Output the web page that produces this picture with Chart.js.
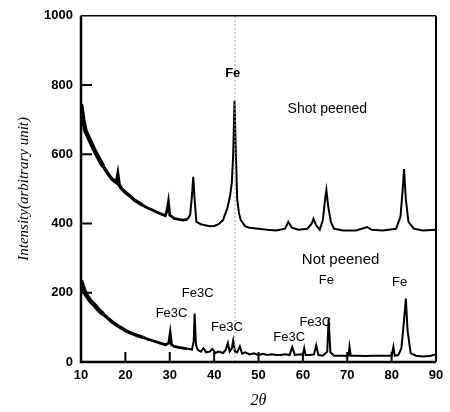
<!DOCTYPE html>
<html>
<head>
<meta charset="utf-8">
<script src="https://cdn.jsdelivr.net/npm/chart.js@4/dist/chart.umd.min.js"></script>
<style>
  html, body { margin: 0; padding: 0; background: #fff; }
  #wrap { width: 450px; height: 412px; }
</style>
</head>
<body>
<div id="wrap"><canvas id="chart"></canvas></div>
<script>
// shot peened pattern (2theta, intensity)
const shotTheta = [10, 10.5, 11, 12, 13, 14, 15, 16, 17, 18, 18.3, 18.6, 19, 20, 21, 22, 23, 24, 25, 26, 27, 28, 29, 29.4, 29.7, 30, 31, 32, 33, 34, 34.6, 35, 35.3, 35.6, 36, 37, 38, 39, 40, 41, 42, 43, 43.6, 44, 44.3, 44.6, 44.9, 45.2, 45.6, 46, 47, 48, 50, 52, 54, 56, 56.7, 57.5, 59, 61, 62, 62.4, 63, 63.8, 64.5, 65, 65.3, 65.7, 66.3, 67, 69, 72, 74.5, 75.5, 78, 81, 82, 82.5, 82.8, 83.2, 83.8, 85, 87, 90]
const shotInt = [745, 700, 668, 640, 612, 588, 565, 545, 528, 518, 540, 512, 503, 490, 480, 468, 460, 452, 445, 440, 433, 428, 423, 438, 462, 424, 415, 412, 410, 412, 425, 480, 535, 470, 405, 398, 395, 392, 393, 398, 410, 445, 480, 520, 600, 755, 600, 470, 430, 410, 392, 388, 385, 382, 380, 385, 405, 388, 382, 385, 400, 414, 395, 382, 410, 470, 497, 450, 405, 385, 380, 380, 390, 382, 380, 385, 420, 500, 557, 470, 405, 385, 380, 382]

// not peened pattern
const notTheta = [10, 10.5, 11, 12, 13, 14, 15, 16, 17, 18, 19, 20, 21, 22, 23, 24, 25, 26, 27, 28, 29, 29.8, 30.1, 30.4, 31, 32, 33, 34, 35, 35.4, 35.6, 35.9, 36.3, 37, 37.6, 38.2, 39, 39.6, 40.3, 41, 42, 42.6, 43.1, 43.5, 44, 44.3, 44.7, 45.2, 45.8, 46.3, 47, 48, 49, 50, 51, 52, 53, 54, 55, 56, 57, 57.6, 58.2, 59, 60, 60.3, 60.6, 61.5, 62.5, 63, 63.5, 64.5, 65.5, 65.8, 66.2, 67, 68, 69, 70.3, 70.5, 70.8, 72, 74, 76, 78, 80, 80.4, 80.7, 81.5, 82.2, 82.8, 83.2, 83.6, 84.3, 85.5, 87, 88.5, 90]
const notInt = [235, 215, 197, 178, 165, 150, 138, 127, 116, 107, 99, 91, 85, 80, 75, 71, 66, 62, 58, 54, 50, 55, 82, 50, 45, 42, 40, 38, 36, 60, 140, 50, 35, 30, 40, 28, 30, 38, 26, 30, 26, 35, 55, 30, 40, 62, 30, 28, 45, 24, 28, 22, 25, 20, 24, 20, 22, 20, 20, 22, 20, 43, 20, 22, 22, 40, 20, 20, 22, 48, 20, 18, 30, 125, 28, 18, 18, 18, 18, 44, 18, 18, 17, 18, 18, 18, 44, 18, 20, 40, 120, 183, 90, 25, 18, 16, 17, 22]

// dotted reference line at the Fe peak
const refTheta = 44.7

// peak labels
const noteText = ['Fe', 'Shot peened', 'Not peened', 'Fe3C', 'Fe3C', 'Fe3C', 'Fe3C', 'Fe3C', 'Fe', 'Fe']
const noteTheta = [44.2, 65.5, 68.5, 36.3, 30.4, 42.9, 56.9, 62.8, 65.3, 81.8]
const noteInt = [834, 731, 294, 197, 140, 100, 71, 114, 237, 231]
const noteFont = ['bold 13px "Liberation Sans"', '14px "Liberation Sans"', '15px "Liberation Sans"',
  '13px "Liberation Sans"', '13px "Liberation Sans"', '13px "Liberation Sans"', '13px "Liberation Sans"',
  '13px "Liberation Sans"', '13px "Liberation Sans"', '13px "Liberation Sans"']

const yTicks = [200, 400, 600, 800]
const xTicks = [20, 30, 40, 50, 60, 70, 80]

const toPoints = (xs, ys) => xs.map((x, i) => ({ x, y: ys[i] }))

// noisy band is wider at low angle
const bandWidth = ctx => {
  const x = ctx.p0.parsed.x
  if (x < 15) return 4.5
  if (x < 24) return 3.5
  if (x < 34) return 2.8
  return 2
}

const frame = {
  id: 'frame',
  afterDatasetsDraw(chart) {
    const { ctx, chartArea: a, scales } = chart
    ctx.save()
    ctx.strokeStyle = '#000'
    ctx.lineWidth = 2
    yTicks.forEach(v => {
      const y = scales.y.getPixelForValue(v)
      ctx.beginPath(); ctx.moveTo(a.left, y); ctx.lineTo(a.left + 11, y); ctx.stroke()
    })
    xTicks.forEach(v => {
      const x = scales.x.getPixelForValue(v)
      ctx.beginPath(); ctx.moveTo(x, a.bottom); ctx.lineTo(x, a.bottom - 10); ctx.stroke()
    })
    // box
    ctx.lineWidth = 1.5
    ctx.beginPath(); ctx.moveTo(a.left, a.top); ctx.lineTo(a.right, a.top); ctx.stroke()
    ctx.lineWidth = 2.5
    ctx.beginPath(); ctx.moveTo(a.left, a.top); ctx.lineTo(a.left, a.bottom); ctx.lineTo(a.right, a.bottom); ctx.stroke()
    ctx.lineWidth = 2
    ctx.beginPath(); ctx.moveTo(a.right, a.top); ctx.lineTo(a.right, a.bottom); ctx.stroke()

    ctx.fillStyle = '#000'
    ctx.textAlign = 'center'
    ctx.textBaseline = 'middle'
    noteText.forEach((t, i) => {
      ctx.font = noteFont[i]
      ctx.fillText(t, scales.x.getPixelForValue(noteTheta[i]), scales.y.getPixelForValue(noteInt[i]))
    })
    ctx.restore()
  }
}

new Chart(document.getElementById('chart'), {
  type: 'line',
  data: {
    datasets: [
      {
        label: 'ref',
        data: toPoints([refTheta, refTheta], [0, 1000]),
        borderColor: '#a0a0a0',
        borderWidth: 1,
        borderDash: [2, 2],
        pointRadius: 0
      },
      {
        label: 'Shot peened',
        data: toPoints(shotTheta, shotInt),
        borderColor: '#000',
        borderWidth: 2,
        segment: { borderWidth: bandWidth },
        pointRadius: 0,
        tension: 0
      },
      {
        label: 'Not peened',
        data: toPoints(notTheta, notInt),
        borderColor: '#000',
        borderWidth: 2,
        segment: { borderWidth: bandWidth },
        pointRadius: 0,
        tension: 0
      }
    ]
  },
  options: {
    animation: false,
    responsive: true,
    maintainAspectRatio: false,
    layout: { padding: { top: 8, right: 14, left: 0, bottom: 0 } },
    plugins: { legend: { display: false }, tooltip: { enabled: false } },
    scales: {
      x: {
        type: 'linear',
        min: 10,
        max: 90,
        grid: { display: false, drawTicks: false },
        border: { display: false },
        ticks: { stepSize: 10, color: '#000', padding: 6, maxRotation: 0,
          font: { family: 'Liberation Sans', size: 13, weight: 'bold' } },
        title: { display: true, text: '2θ', color: '#000', padding: { top: 4, bottom: 2 },
          font: { family: 'Liberation Serif', size: 16, style: 'italic' } },
        afterFit: s => { s.height = 50 }
      },
      y: {
        min: 0,
        max: 1000,
        grid: { display: false, drawTicks: false },
        border: { display: false },
        ticks: { stepSize: 200, color: '#000', padding: 8,
          callback: v => String(v),
          font: { family: 'Liberation Sans', size: 13, weight: 'bold' } },
        title: { display: true, text: 'Intensity(arbitrary unit)', color: '#000', padding: { top: 15, bottom: 4 },
          font: { family: 'Liberation Serif', size: 15, style: 'italic' } },
        afterFit: s => { s.width = 81 }
      }
    }
  },
  plugins: [frame]
})
</script>
</body>
</html>
